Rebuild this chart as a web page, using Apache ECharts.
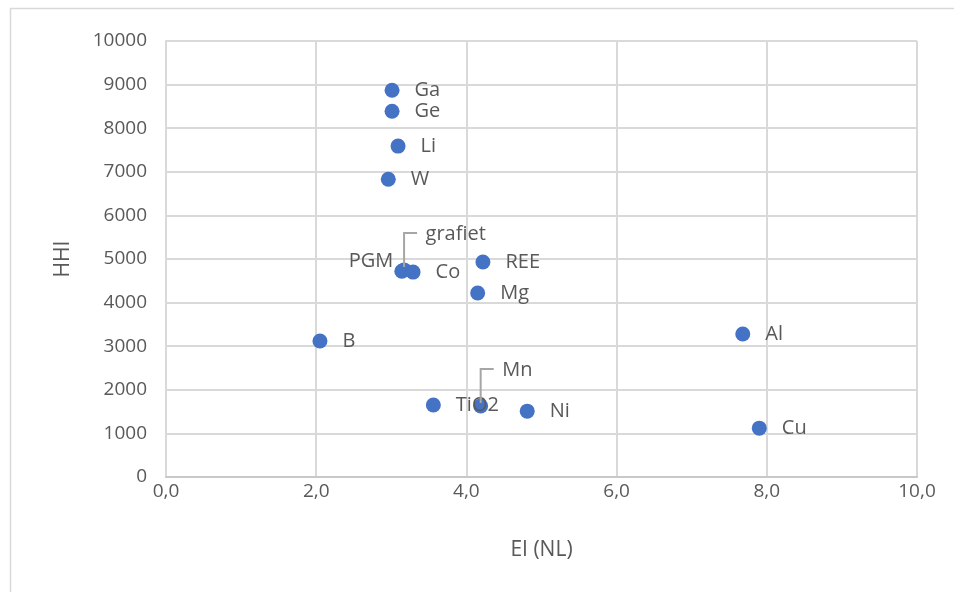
<!DOCTYPE html>
<html>
<head>
<meta charset="utf-8">
<script src="https://cdn.jsdelivr.net/npm/echarts@6/dist/echarts.min.js"></script>
<style>html,body{margin:0;padding:0;background:#fff}#c{width:954px;height:592px}</style>
</head>
<body>
<div id="c"></div>
<script>
const names = ['Ga','Ge','Li','W','PGM','grafiet','Co','REE','Mg','B','TiO2','Mn','Ni','Al','Cu'];
const eiValues = [3.01,3.01,3.09,2.96,3.14,3.17,3.29,4.22,4.15,2.05,3.56,4.19,4.81,7.68,7.90];
const hhiValues = [8870,8390,7590,6830,4720,4750,4700,4930,4220,3120,1650,1630,1510,3280,1120];
const xTicks = ['0,0','2,0','4,0','6,0','8,0','10,0'];
const yTicks = ['0','1000','2000','3000','4000','5000','6000','7000','8000','9000','10000'];

const FONT = '"Open Sans", "Liberation Sans", sans-serif';
const TXT = '#595959';
const leader = ['grafiet','Mn'];

const pts = names.map((n,i)=>{
  const item = {name:n, value:[eiValues[i], hhiValues[i]]};
  if (n === 'PGM') item.label = {position:'left', distance:1, offset:[0,-10]};
  if (leader.indexOf(n) >= 0) item.label = {position:'right', distance:14, offset:[0,-36]};
  return item;
});
const leaderPts = names.map((n,i)=>[eiValues[i], hhiValues[i], n]).filter(d=>leader.indexOf(d[2])>=0);

const chart = echarts.init(document.getElementById('c'), null, {renderer:'canvas'});
chart.setOption({
  animation:false,
  backgroundColor:'#fff',
  graphic:[{type:'rect', shape:{x:10.5,y:8.5,width:1200,height:1200}, style:{fill:'none', stroke:'#d9d9d9', lineWidth:1.5}, z:-10}],
  grid:{left:166, right:37, top:41, bottom:115},
  xAxis:{
    type:'value', min:0, max:10, interval:2,
    name:'EI (NL)', nameLocation:'middle', nameGap:63,
    nameTextStyle:{color:TXT, fontSize:21, fontFamily:FONT},
    axisLine:{show:true, lineStyle:{color:'#c8c8c8', width:2}},
    axisTick:{show:false},
    axisLabel:{color:TXT, fontSize:19, fontFamily:FONT, margin:5, formatter:(v)=>xTicks[Math.round(v/2)]},
    splitLine:{show:true, lineStyle:{color:'#d9d9d9', width:2}}
  },
  yAxis:{
    type:'value', min:0, max:10000, interval:1000,
    name:'HHI', nameLocation:'middle', nameGap:92, nameRotate:90,
    nameTextStyle:{color:TXT, fontSize:21, fontFamily:FONT},
    axisLine:{show:true, lineStyle:{color:'#d9d9d9', width:2}},
    axisTick:{show:false},
    axisLabel:{color:TXT, fontSize:19, fontFamily:FONT, margin:19, formatter:(v)=>yTicks[Math.round(v/1000)]},
    splitLine:{show:true, lineStyle:{color:'#d9d9d9', width:2}}
  },
  series:[
    {
      type:'custom',
      data:leaderPts,
      silent:true,
      z:3,
      renderItem:(params, api)=>{
        const p = api.coord([api.value(0), api.value(1)]);
        const x = p[0];
        return {type:'polyline', shape:{points:[[x,p[1]-3],[x,p[1]-37],[x+13,p[1]-37]]},
                style:{stroke:'#a6a6a6', lineWidth:2, fill:null}};
      }
    },
    {
      type:'scatter',
      symbolSize:15,
      z:2,
      itemStyle:{color:'#4472C4', opacity:1},
      label:{show:true, position:'right', distance:15, formatter:'{b}', color:TXT, fontSize:20, fontFamily:FONT},
      data:pts
    }
  ]
});
</script>
</body>
</html>
